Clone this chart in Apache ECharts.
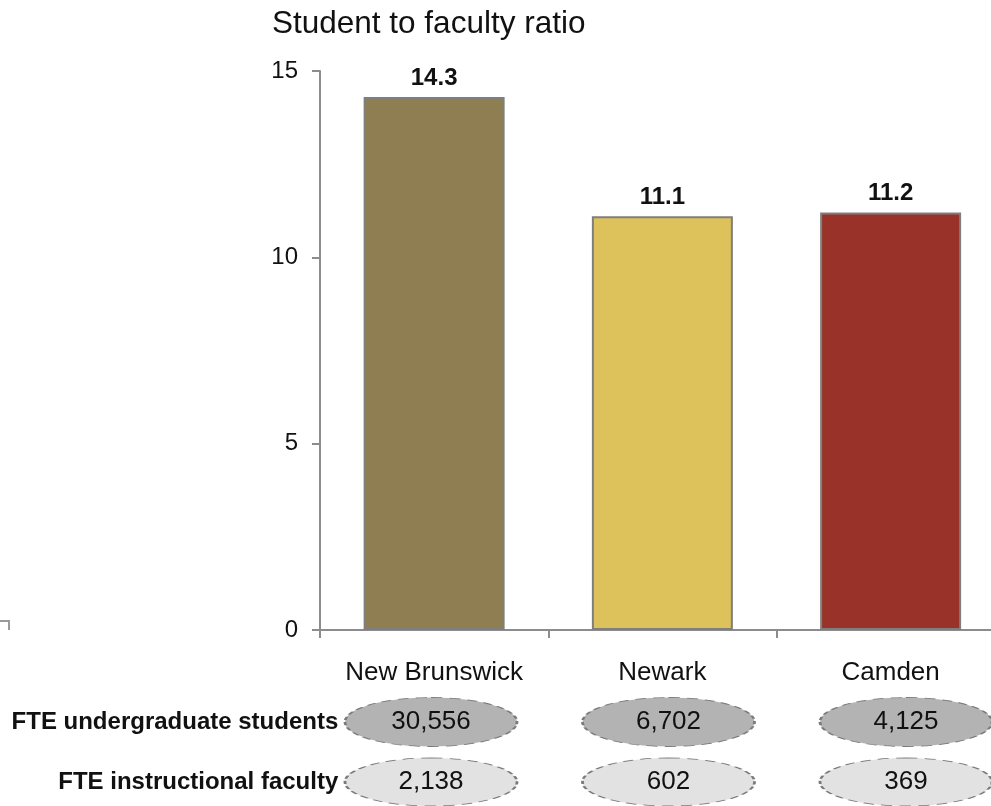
<!DOCTYPE html>
<html>
<head>
<meta charset="utf-8">
<script src="https://cdn.jsdelivr.net/npm/echarts@6/dist/echarts.min.js"></script>
<style>
html,body{margin:0;padding:0;background:#fff;overflow:hidden;width:991px;height:806px;}
#chart{width:1040px;height:840px;}
</style>
</head>
<body>
<div id="chart"></div>
<script>
const campuses = ['New Brunswick', 'Newark', 'Camden'];
const ratio = [14.3, 11.1, 11.2];
const students = [30556, 6702, 4125];
const faculty = [2138, 602, 369];
const rowLabels = ['FTE instructional faculty', 'FTE undergraduate students'];
const yTicks = [0, 5, 10, 15];

const barColors = ['#8e7e51', '#ddc15b', '#993329'];
const FONT = '"Liberation Sans", Arial, sans-serif';
const ELLIPSE = 'path://M50,0 C77.6,0 100,22.4 100,50 C100,77.6 77.6,100 50,100 C22.4,100 0,77.6 0,50 C0,22.4 22.4,0 50,0 Z';

const chart = echarts.init(document.getElementById('chart'), null, {renderer: 'canvas'});

const fmt = v => v.toLocaleString('en-US');

chart.setOption({
  animation: false,
  backgroundColor: '#fff',
  textStyle: {fontFamily: FONT},
  title: {
    text: 'Student to faculty ratio',
    left: 272, top: 8, padding: 0,
    textStyle: {fontFamily: FONT, fontSize: 31.5, fontWeight: 'normal', color: '#111'}
  },
  grid: [
    {left: 320, top: 71, width: 684.75, height: 559, containLabel: false},
    {left: 312.25, top: 692, width: 712.5, height: 120, containLabel: false}
  ],
  xAxis: [
    {
      type: 'category', gridIndex: 0, data: campuses,
      axisLine: {lineStyle: {color: '#8c8c8c', width: 2}},
      axisTick: {show: true, length: 8, lineStyle: {color: '#8c8c8c', width: 2}},
      axisLabel: {fontFamily: FONT, fontSize: 26, color: '#111', margin: 30, interval: 0}
    },
    {
      type: 'category', gridIndex: 1, data: campuses, show: false
    }
  ],
  yAxis: [
    {
      type: 'value', gridIndex: 0, min: yTicks[0], max: yTicks[yTicks.length - 1], interval: 5,
      axisLine: {show: true, lineStyle: {color: '#8c8c8c', width: 2}},
      axisTick: {show: true, length: 8, lineStyle: {color: '#8c8c8c', width: 2}},
      splitLine: {show: false},
      axisLabel: {fontFamily: FONT, fontSize: 24, color: '#111', margin: 22}
    },
    {
      type: 'category', gridIndex: 1, data: rowLabels,
      offset: -26,
      axisLine: {show: false}, axisTick: {show: false}, splitLine: {show: false},
      axisLabel: {fontFamily: FONT, fontSize: 24, fontWeight: 'bold', color: '#111', margin: 0, interval: 0}
    }
  ],
  series: [
    {
      type: 'bar', xAxisIndex: 0, yAxisIndex: 0,
      data: ratio.map((v, i) => ({value: v, itemStyle: {color: barColors[i]}})),
      barWidth: 141,
      itemStyle: {borderColor: '#7f7f7f', borderWidth: 2},
      label: {
        show: true, position: 'top', distance: 7,
        fontFamily: FONT, fontSize: 24, fontWeight: 'bold', color: '#111',
        formatter: p => p.value.toFixed(1)
      }
    },
    {
      type: 'scatter', xAxisIndex: 1, yAxisIndex: 1, clip: false,
      symbol: ELLIPSE, symbolSize: [172, 49],
      data: students.map((v, i) => [campuses[i], rowLabels[1], v]),
      itemStyle: {color: '#b3b3b3', opacity: 1, borderColor: '#7a7a7a', borderWidth: 1.5, borderType: [6, 4]},
      label: {show: true, position: 'inside', fontFamily: FONT, fontSize: 26, color: '#111',
        formatter: p => fmt(p.value[2])}
    },
    {
      type: 'scatter', xAxisIndex: 1, yAxisIndex: 1, clip: false,
      symbol: ELLIPSE, symbolSize: [172, 48],
      data: faculty.map((v, i) => [campuses[i], rowLabels[0], v]),
      itemStyle: {color: '#e2e2e2', opacity: 1, borderColor: '#7a7a7a', borderWidth: 1.5, borderType: [6, 4]},
      label: {show: true, position: 'inside', fontFamily: FONT, fontSize: 26, color: '#111',
        formatter: p => fmt(p.value[2])}
    }
  ],
  graphic: [
    {type: 'polyline', shape: {points: [[0, 621], [9, 621], [9, 630]]},
     style: {stroke: '#9a9a9a', lineWidth: 2, fill: null}, silent: true}
  ]
});
</script>
</body>
</html>
